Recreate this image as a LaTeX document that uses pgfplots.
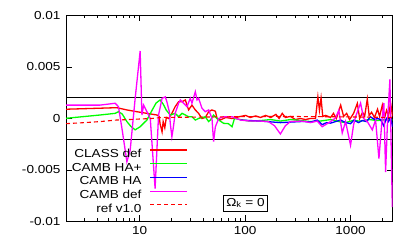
\documentclass[border=0pt]{standalone}
\usepackage{fontspec}
\setmainfont{Liberation Sans}[FakeStretch=1.17]
\usepackage{pgfplots}
\pgfplotsset{compat=1.18}
\definecolor{gpRed}{RGB}{255,0,0}
\definecolor{gpGreen}{RGB}{0,255,0}
\definecolor{gpBlue}{RGB}{0,0,255}
\definecolor{gpMagenta}{RGB}{255,0,255}
\newcommand{\gpfont}{\fontsize{11.6pt}{13pt}\selectfont}

\begin{document}
\begin{tikzpicture}[x=1pt,y=1pt]
\useasboundingbox (0,0) rectangle (415,249);
\begin{axis}[
  at={(66pt,27.5pt)}, anchor=south west,
  scale only axis, width=326.5pt, height=206pt,
  xmode=log, xmin=2, xmax=2500,
  ymin=-0.01, ymax=0.01,
  xtick={10,100,1000}, xticklabels={10,100,1000},
  minor xtick={2,3,4,5,6,7,8,9,20,30,40,50,60,70,80,90,200,300,400,500,600,700,800,900,2000},
  ytick={-0.01,-0.005,0,0.005,0.01},
  yticklabels={-0.01,-0.005,0,0.005,0.01},
  scaled y ticks=false,
  tick align=inside,
  major tick length=6pt, minor tick length=3pt,
  every tick/.style={black,line width=0.8pt},
  axis line style={line width=0.9pt},
  tick label style={font=\gpfont},
  yticklabel style={xshift=-2pt},
  xticklabel style={yshift=-1pt},
  legend plot pos=right,
  legend cell align=right,
  legend image code/.code={\path (0pt,0pt); \draw[#1] (0pt,4pt) -- (37pt,4pt);},
  legend style={draw=none, fill=none, at={(0.3737,0.355)}, anchor=north east,
    inner sep=0pt, row sep=2.7pt, column sep=8pt, font=\gpfont,
    nodes={inner sep=0pt, text height=9pt, text depth=2pt}},
]
\addplot[black, line width=1.1pt, forget plot] coordinates {(2,0.002)(2500,0.002)};
\addplot[black, line width=1.1pt, forget plot] coordinates {(2,-0.002)(2500,-0.002)};

% CLASS def
\addplot[gpRed, line width=1.3pt] coordinates {
(2,0.0009)(4.21,0.001)(6.06,0.00105)(7.56,0.00083)(9.4,0.00066)(11.7,0.0005)
(13.4,0.0004)(14.6,0.00034)(15.3,0.0002)(15.6,-0.0005)(16.3,-0.0013)(16.7,-0.0003)
(17.3,-0.0009)(17.9,0.0001)(18.8,0.0)(20.2,0.0005)(21.7,0.00115)(23.4,0.00163)
(25.2,0.00163)(27.1,0.0018)(29.1,0.00083)(31.3,0.0013)(33.7,0.00083)(36.2,0.0005)
(39.0,0.0)(41.9,0.0001)(45.1,0.00066)(48.5,0.00083)(52.2,0.0007)(54.2,0.0)
(58.2,-0.00015)(65.4,0.0001)(75.2,0.0)(90.2,0.0002)(101,0.0003)(112,0.0001)
(126,0.00025)(140,0.0001)(157,0.0003)(175,0.0001)(196,0.0004)(210,0.0)
(225,0.0005)(241,0.0001)(269,0.0002)(300,-0.0001)(335,0.0)(373,-0.0001)
(417,0.0)(465,0.0)(490,0.0021)(507,0.0008)(525,0.002)(545,0.0002)(582,0.0003)
(646,0.0001)(689,0.0005)(734,0.0)(806,0.0013)(860,0.0002)(918,0.0005)
(979,-0.0001)(1069,0.0005)(1160,0.00147)(1220,0.0)(1300,0.0006)(1360,0.0002)
(1442,0.0019)(1500,0.0003)(1584,0.0006)(1687,0.0001)(1803,0.0009)(1887,0.0002)
(2001,0.0013)(2100,0.0)(2196,0.0008)(2296,0.0003)(2400,0.0015)(2500,0.0002)
};
\addlegendentry{CLASS def}

% CAMB HA+
\addplot[gpGreen, line width=1.3pt] coordinates {
(2,0.00002)(4.21,0.00034)(5.85,0.0005)(6.29,0.00066)(6.82,0.00044)(7.56,-0.0003)
(8.3,-0.0008)(9.06,-0.0011)(10.1,-0.0008)(11.7,-0.00015)(13.1,0.0008)(14.3,0.0015)
(15.6,0.0018)(16.7,0.0014)(17.9,0.0008)(19.5,0.00034)(21.7,0.0005)(23.4,0.00017)
(25.2,0.0005)(27.1,0.00034)(29.1,0.00017)(31.3,0.00017)(33.7,-0.00015)(36.2,0.0)
(41.9,0.00017)(45.1,-0.0003)(46.8,-0.00015)(50.2,0.00034)(56.1,-0.00015)
(62.5,-0.00047)(69.4,-0.0005)(75.2,-0.0008)(79.2,0.0)(90.2,-0.0001)(110,-0.00025)
(140,-0.0002)(175,-0.0001)(216,-0.00025)(270,-0.0001)(335,-0.0002)(420,-0.0003)
(517,-0.00025)(650,-0.0001)(780,-0.0003)(897,-0.0004)(1050,-0.0002)(1245,-0.00025)
(1500,-0.0001)(1800,-0.0002)(2200,-0.0001)(2500,-0.00015)
};
\addlegendentry{CAMB HA+}

% CAMB HA
\addplot[gpBlue, line width=1.3pt] coordinates {
(90.2,-0.00015)(140,-0.00025)(216,-0.0004)(335,-0.0003)(373,-0.0003)(417,-0.00035)
(483,-0.00015)(538,-0.0006)(592,-0.0004)(646,-0.00045)(720,-0.0003)(806,-0.00015)
(897,-0.0004)(1000,-0.0005)(1076,-0.00015)(1190,-0.0004)(1287,-0.0002)(1420,-0.0003)
(1545,0.00017)(1687,-0.0001)(1803,0.0)(1928,-0.0001)(2058,-0.0007)(2196,0.0)
(2296,-0.0003)(2400,0.0001)(2500,-0.0008)
};
\addlegendentry{CAMB HA}

% CAMB def
\addplot[gpMagenta, line width=1.3pt] coordinates {
(2,0.0013)(4.21,0.0013)(5.85,0.00148)(6.29,0.00115)(6.82,-0.0011)(7.56,-0.0042)
(8.12,-0.0031)(9.06,0.00196)(10.1,0.00655)(10.5,0.00034)(10.9,0.0013)(11.7,0.00066)
(12.6,0.0)(14.0,-0.0068)(15.1,0.00034)(16.3,0.00196)(17.5,0.0021)(18.1,0.00163)
(19.1,0.00066)(19.5,-0.00047)(20.2,-0.00177)(20.9,-0.0008)(21.7,0.0005)
(23.4,0.00148)(24.3,0.0018)(26.1,0.00148)(28.1,0.00115)(30.2,0.00196)(31.3,0.00148)
(33.7,0.0026)(35.0,0.0018)(36.2,0.00196)(39.0,0.00099)(41.9,0.00066)(45.1,0.00083)
(48.5,0.0)(50.2,-0.00225)(52.2,-0.0008)(56.1,0.0)(62.5,0.00017)(75.2,0.00017)
(90.2,-0.00015)(112,-0.00025)(140,-0.00025)(166,-0.0003)(190,-0.0007)(216,-0.0015)
(241,-0.0007)(269,-0.0003)(335,-0.00025)(373,-0.0003)(417,-0.0004)(483,-0.00025)
(538,-0.0008)(601,-0.0005)(646,-0.0003)(720,0.00005)(774,0.0008)(834,-0.0014)
(897,-0.0003)(1000,-0.0026)(1069,-0.0006)(1116,0.00017)(1245,0.0015)(1330,0.0)
(1442,-0.0003)(1608,-0.0011)(1728,-0.00015)(1859,-0.0039)(2001,0.00017)
(2071,0.0015)(2150,-0.0052)(2246,-0.00015)(2362,0.0038)(2490,-0.0086)
};
\addlegendentry{CAMB def}

% ref v1.0
\addplot[gpRed, line width=1.1pt, dash pattern=on 4pt off 3pt] coordinates {
(2,-0.0005)(3,-0.0004)(4.21,-0.0003)(6,-0.00015)(8,-0.0001)(10,-0.00005)
(13,0.0)(16,0.0001)(25,0.00012)(50,0.00015)(100,0.00018)(200,0.0002)
(500,0.00018)(1000,0.00015)(2500,0.0001)
};
\addlegendentry{ref v1.0}

\node[draw, line width=0.8pt, inner sep=3pt, font=\gpfont]
  at (rel axis cs:0.5498,0.0898) {Ω\textsubscript{k} = 0};
\end{axis}
\end{tikzpicture}
\end{document}
